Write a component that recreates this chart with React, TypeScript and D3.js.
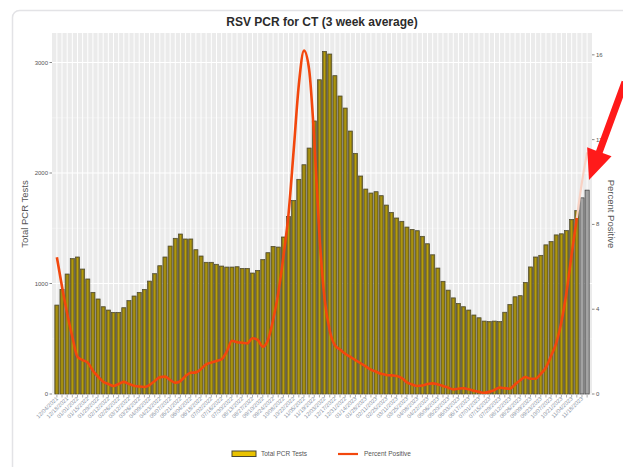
import React from 'react';
import * as d3 from 'd3';

// weekly categories (Saturdays), 12/04/2021 .. 11/25/2023
const firstWeek = new Date(2021, 11, 4);
const weeks: Date[] = d3.timeSaturday.range(firstWeek, new Date(2023, 10, 26));
const fmt = d3.timeFormat('%m/%d/%Y');

// total PCR tests (3 week average)
const totalTests = [
  805, 947, 1086, 1225, 1240, 1131, 1041, 920, 860, 790,
  760, 739, 739, 781, 845, 887, 920, 947, 1022, 1089,
  1161, 1240, 1339, 1409, 1448, 1403, 1403, 1306, 1249, 1192,
  1192, 1174, 1158, 1149, 1149, 1152, 1137, 1137, 1095, 1119,
  1216, 1279, 1336, 1330, 1421, 1605, 1752, 1943, 2075, 2226,
  2471, 2844, 3101, 3077, 2881, 2697, 2588, 2380, 2178, 1973,
  1855, 1819, 1831, 1795, 1710, 1644, 1593, 1563, 1511, 1490,
  1478, 1427, 1360, 1260, 1140, 1020, 940, 870, 820, 790,
  760, 715, 690, 660, 655, 660, 655, 740, 810, 880,
  890, 1010, 1150, 1240, 1255, 1350, 1380, 1440, 1450, 1480,
  1580, 1660, 1775, 1845,
];

// percent positive
const pctPositive = [
  6.45, 5.06, 3.8, 2.7, 1.76, 1.6, 1.48, 1.1, 0.82, 0.58,
  0.47, 0.38, 0.47, 0.57, 0.47, 0.39, 0.35, 0.33, 0.42, 0.61,
  0.79, 0.82, 0.66, 0.53, 0.61, 0.85, 1.0, 1.02, 1.18, 1.4,
  1.48, 1.56, 1.64, 2.0, 2.51, 2.44, 2.42, 2.39, 2.63, 2.55,
  2.23, 2.55, 3.49, 4.75, 6.48, 8.5, 11.5, 14.6, 16.2, 15.3,
  12.0, 7.5, 4.5, 3.0, 2.3, 2.1, 1.9, 1.75, 1.6, 1.45,
  1.3, 1.15, 1.05, 0.95, 0.9, 0.88, 0.85, 0.75, 0.55, 0.45,
  0.38, 0.4, 0.47, 0.5, 0.45, 0.38, 0.3, 0.22, 0.25, 0.27,
  0.22, 0.15, 0.1, 0.06, 0.1, 0.19, 0.3, 0.27, 0.25, 0.45,
  0.65, 0.8, 0.72, 0.72, 0.95, 1.25, 1.8, 2.4, 3.4, 4.8,
  6.6, 8.3, 10.0, 11.4,
];

const leftTicks = [0, 1000, 2000, 3000];
const leftMinor = [500, 1500, 2500];
const rightTicks = [0, 4, 8, 12, 16];
const incompleteFrom = 102; // last weeks drawn faded

const W = 623;
const H = 467;
const panel = { left: 52, right: 592, top: 33, bottom: 395 };
const font = '"Liberation Sans", Arial, sans-serif';

export default function App() {
  const labels = weeks.map((d) => fmt(d));
  const x = d3
    .scaleBand<string>()
    .domain(labels)
    .range([panel.left + 0.5, panel.right - 0.5])
    .paddingInner(0.2)
    .paddingOuter(0.45);
  const y = d3.scaleLinear().domain([0, 3267]).range([394, panel.top]);
  const y2 = d3.scaleLinear().domain([0, 17.03]).range([394, panel.top]);
  const cx = (i: number) => (x(labels[i]) as number) + x.bandwidth() / 2;

  const line = d3
    .line<number>()
    .x((_, i) => cx(i))
    .y((d) => y2(d))
    .curve(d3.curveMonotoneX);
  const solidPath = line(pctPositive.slice(0, incompleteFrom)) || '';
  const fadedPath =
    d3
      .line<number>()
      .x((_, i) => cx(i + incompleteFrom - 1))
      .y((d) => y2(d))
      .curve(d3.curveMonotoneX)(pctPositive.slice(incompleteFrom - 1)) || '';

  // annotation arrow
  const tail = [625, 82];
  const tip = [589, 180];
  const len = Math.hypot(tip[0] - tail[0], tip[1] - tail[1]);
  const u = [(tip[0] - tail[0]) / len, (tip[1] - tail[1]) / len];
  const n = [u[1], -u[0]];
  const base = [tip[0] - u[0] * 30, tip[1] - u[1] * 30];
  const pt = (p: number[], k: number) => `${p[0] + n[0] * k},${p[1] + n[1] * k}`;
  const arrow = `M${pt(tail, 3.5)}L${pt(base, 3.5)}L${pt(base, 13)}L${tip[0]},${tip[1]}L${pt(base, -13)}L${pt(base, -3.5)}L${pt(tail, -3.5)}Z`;

  return (
    <div style={{ position: 'absolute', left: 0, top: 0 }}>
      <svg width={W} height={H} style={{ display: 'block', background: '#fff' }} fontFamily={font}>
        <rect x={12.5} y={10.5} width={660} height={500} rx={7} fill="#fff" stroke="#e3e3e6" strokeWidth={1.5} />
        <text x={322} y={26} textAnchor="middle" fontSize={12} fontWeight="bold" fill="#2b2b2b">
          RSV PCR for CT (3 week average)
        </text>

        {/* panel */}
        <rect x={panel.left} y={panel.top} width={panel.right - panel.left} height={panel.bottom - panel.top} fill="#ebebeb" />
        {leftMinor.map((t) => (
          <line key={'m' + t} x1={panel.left} x2={panel.right} y1={y(t)} y2={y(t)} stroke="#f6f6f6" strokeWidth={0.6} />
        ))}
        {leftTicks.map((t) => (
          <line key={'g' + t} x1={panel.left} x2={panel.right} y1={y(t)} y2={y(t)} stroke="#fff" strokeWidth={1.1} />
        ))}
        {labels.map((l, i) => (
          <line key={'v' + l} x1={cx(i)} x2={cx(i)} y1={panel.top} y2={panel.bottom} stroke="#fff" strokeWidth={1} />
        ))}

        {/* bars */}
        {totalTests.map((v, i) => {
          const faded = i >= incompleteFrom;
          return (
            <g key={'b' + i}>
              <rect
                x={x(labels[i])}
                y={y(v)}
                width={x.bandwidth()}
                height={y(0) - y(v)}
                fill={faded ? '#a3a3a3' : '#8c7a16'}
                stroke={faded ? '#3a3a3a' : '#4a4630'}
                strokeWidth={0.7}
              />
              {!faded && (
                <line x1={cx(i)} x2={cx(i)} y1={y(v) + 1} y2={y(0)} stroke="#e3c300" strokeWidth={0.8} opacity={0.7} />
              )}
            </g>
          );
        })}

        {/* percent positive line */}
        <path d={fadedPath} fill="none" stroke="#f8d2c4" strokeWidth={2.2} />
        <path d={solidPath} fill="none" stroke="#f2470d" strokeWidth={2.6} strokeLinejoin="round" />

        {/* left axis */}
        {leftTicks.map((t) => (
          <g key={'l' + t}>
            <line x1={49.5} x2={panel.left} y1={y(t)} y2={y(t)} stroke="#555" strokeWidth={0.7} />
            <text x={48} y={y(t) + 2} textAnchor="end" fontSize={6} fill="#555">
              {t}
            </text>
          </g>
        ))}
        <text transform="translate(28,214) rotate(-90)" textAnchor="middle" fontSize={9.5} fill="#555">
          Total PCR Tests
        </text>

        {/* right axis */}
        {rightTicks.map((t) => (
          <g key={'r' + t}>
            <line x1={panel.right} x2={panel.right + 2.5} y1={y2(t)} y2={y2(t)} stroke="#555" strokeWidth={0.7} />
            <text x={panel.right + 4} y={y2(t) + 2} fontSize={6} fill="#555">
              {t}
            </text>
          </g>
        ))}
        <text transform="translate(608,214) rotate(90)" textAnchor="middle" fontSize={9.5} fill="#555">
          Percent Positive
        </text>

        {/* x axis */}
        {labels.map((l, i) => (
          <g key={'x' + l}>
            <line x1={cx(i)} x2={cx(i)} y1={panel.bottom} y2={panel.bottom + 2.5} stroke="#888" strokeWidth={0.7} />
            {i % 2 === 0 && (
              <text
                transform={`translate(${cx(i) + 1.5},${panel.bottom + 4}) rotate(-45)`}
                textAnchor="end"
                fontSize={5.6}
                fill="#8a93a3"
              >
                {l}
              </text>
            )}
          </g>
        ))}

        {/* legend */}
        <rect x={232} y={451} width={24} height={5.5} fill="#e9c200" stroke="#4a4630" strokeWidth={1} />
        <text x={261} y={456} fontSize={6.5} fill="#555">
          Total PCR Tests
        </text>
        <line x1={338} x2={358} y1={454} y2={454} stroke="#f2470d" strokeWidth={2.2} />
        <text x={364} y={456} fontSize={6.5} fill="#555">
          Percent Positive
        </text>

        {/* annotation arrow */}
        <path d={arrow} fill="#ff1a1a" />
      </svg>
    </div>
  );
}
